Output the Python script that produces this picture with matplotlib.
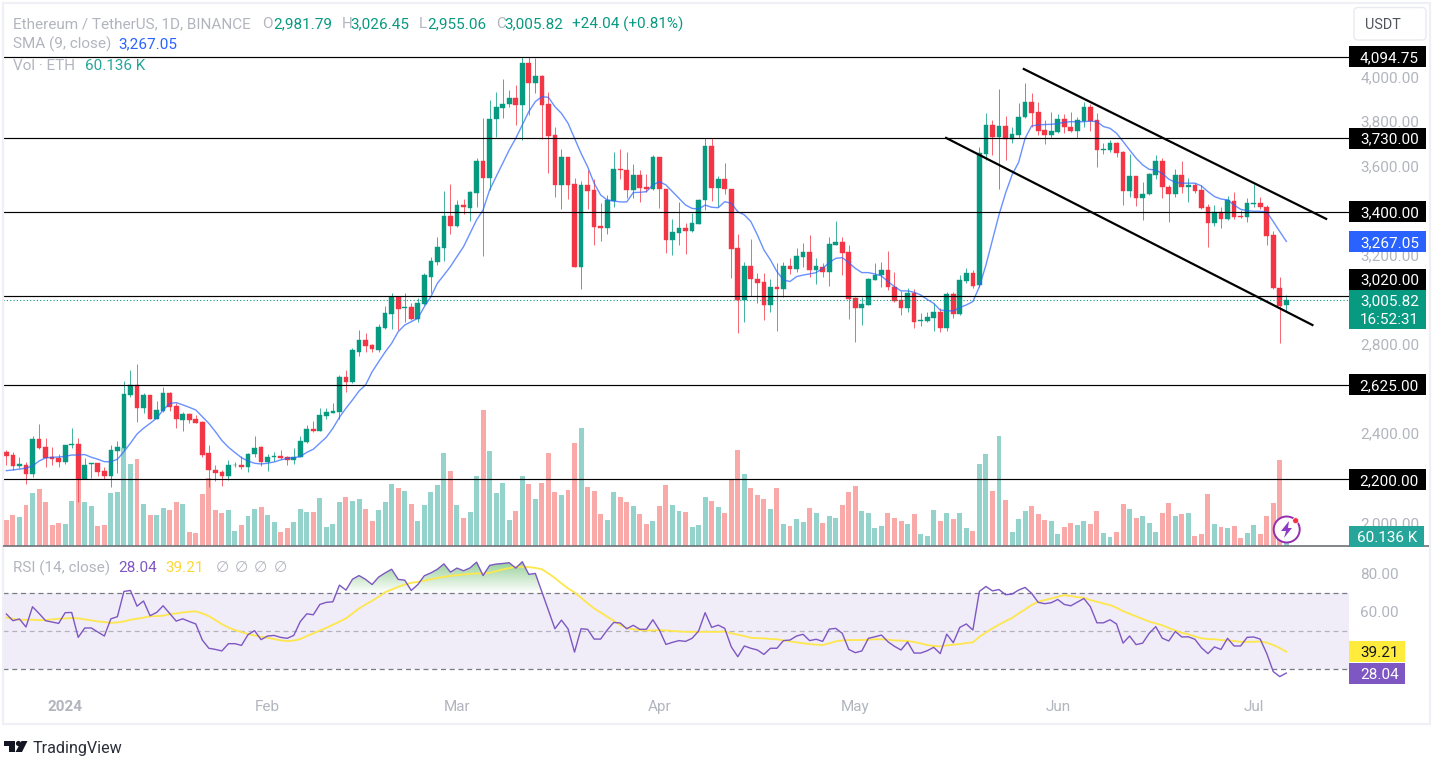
#!/usr/bin/env python3
"""ETH/USDT daily candles with SMA, volume and RSI, TradingView look."""

import matplotlib

matplotlib.use("Agg")
import matplotlib.patches as mpatches
import matplotlib.pyplot as plt
import matplotlib.transforms as mtransforms
import numpy as np
from matplotlib.path import Path

# candles, one per day, 2023-12-23 to 2024-07-06
opens = [
    2324, 2308, 2258, 2264, 2224, 2380, 2344, 2300, 2296, 2276,
    2353, 2357, 2203, 2269, 2272, 2239, 2217, 2327, 2339, 2580,
    2622, 2522, 2578, 2472, 2507, 2589, 2529, 2468, 2493, 2469,
    2457, 2317, 2244, 2233, 2214, 2263, 2266, 2254, 2312, 2345,
    2279, 2300, 2306, 2299, 2287, 2300, 2368, 2424, 2417, 2486,
    2499, 2504, 2661, 2637, 2771, 2823, 2803, 2780, 2877, 2941,
    3016, 2970, 2973, 2918, 2986, 3109, 3173, 3238, 3383, 3338,
    3432, 3418, 3483, 3628, 3550, 3815, 3867, 3882, 3909, 3877,
    4067, 3977, 4009, 3882, 3744, 3520, 3644, 3523, 3154, 3519,
    3496, 3336, 3329, 3450, 3592, 3586, 3496, 3563, 3510, 3501,
    3644, 3504, 3273, 3306, 3327, 3314, 3347, 3451, 3695, 3505,
    3545, 3504, 3236, 3004, 3155, 3100, 3084, 2983, 3064, 3052,
    3155, 3143, 3197, 3218, 3139, 3154, 3130, 3252, 3263, 3218,
    3013, 2970, 2982, 3095, 3115, 3137, 3064, 3004, 2970, 3037,
    2910, 2910, 2925, 2952, 2879, 3033, 2942, 3088, 3124, 3072,
    3661, 3789, 3737, 3786, 3728, 3744, 3824, 3894, 3845, 3767,
    3746, 3759, 3815, 3782, 3762, 3809, 3868, 3812, 3677, 3677,
    3710, 3670, 3495, 3559, 3463, 3478, 3565, 3626, 3513, 3480,
    3563, 3513, 3519, 3496, 3421, 3351, 3397, 3369, 3450, 3383,
    3375, 3433, 3439, 3423, 3296, 3060, 2981.79,
]
highs = [
    2332, 2324, 2302, 2279, 2395, 2448, 2384, 2344, 2314, 2354,
    2430, 2384, 2294, 2275, 2275, 2257, 2354, 2372, 2643, 2691,
    2716, 2589, 2578, 2553, 2616, 2593, 2541, 2504, 2496, 2489,
    2463, 2354, 2264, 2242, 2287, 2279, 2305, 2320, 2395, 2351,
    2314, 2324, 2332, 2305, 2339, 2395, 2442, 2462, 2522, 2522,
    2541, 2667, 2691, 2789, 2870, 2855, 2807, 2897, 2979, 3034,
    3019, 3037, 2992, 3012, 3127, 3199, 3288, 3492, 3523, 3453,
    3456, 3495, 3643, 3822, 3901, 3936, 3996, 3946, 3969, 4094,
    4094, 4088, 4013, 3936, 3782, 3681, 3644, 3550, 3538, 3587,
    3545, 3438, 3474, 3670, 3681, 3670, 3613, 3587, 3569, 3655,
    3644, 3504, 3368, 3445, 3351, 3396, 3457, 3729, 3729, 3562,
    3617, 3504, 3299, 3173, 3278, 3127, 3124, 3097, 3172, 3176,
    3194, 3236, 3261, 3296, 3191, 3169, 3285, 3359, 3285, 3251,
    3019, 3019, 3104, 3169, 3173, 3224, 3131, 3046, 3057, 3052,
    2944, 2952, 2989, 2967, 3042, 3042, 3116, 3146, 3139, 3692,
    3844, 3812, 3949, 3831, 3782, 3886, 3976, 3931, 3891, 3812,
    3849, 3839, 3839, 3846, 3824, 3891, 3883, 3842, 3707, 3722,
    3714, 3673, 3659, 3562, 3532, 3573, 3655, 3640, 3520, 3590,
    3626, 3550, 3528, 3520, 3433, 3430, 3423, 3471, 3487, 3408,
    3460, 3525, 3465, 3430, 3314, 3109, 3026.45,
]
lows = [
    2264, 2242, 2250, 2179, 2212, 2335, 2257, 2264, 2257, 2267,
    2339, 2100, 2200, 2205, 2215, 2202, 2167, 2227, 2332, 2568,
    2457, 2499, 2472, 2469, 2504, 2508, 2429, 2417, 2451, 2451,
    2302, 2167, 2194, 2170, 2197, 2254, 2248, 2235, 2302, 2261,
    2239, 2282, 2290, 2264, 2270, 2299, 2365, 2412, 2417, 2472,
    2496, 2472, 2590, 2630, 2753, 2770, 2770, 2772, 2873, 2873,
    2870, 2907, 2915, 2907, 2982, 3034, 3161, 3179, 3300, 3333,
    3390, 3359, 3423, 3202, 3498, 3737, 3821, 3871, 3789, 3722,
    3834, 3934, 3725, 3572, 3468, 3414, 3456, 3151, 3055, 3414,
    3251, 3269, 3300, 3423, 3545, 3460, 3460, 3445, 3490, 3498,
    3415, 3216, 3206, 3251, 3211, 3311, 3345, 3408, 3450, 3420,
    3478, 3101, 2855, 2907, 3022, 2989, 2915, 2949, 2867, 3019,
    3119, 3128, 3154, 3109, 3074, 3109, 3069, 3252, 3116, 2919,
    2816, 2892, 2982, 3094, 3064, 3049, 2997, 2937, 2952, 2880,
    2889, 2904, 2865, 2862, 2867, 2925, 2937, 3082, 3057, 3064,
    3632, 3655, 3501, 3632, 3710, 3729, 3822, 3779, 3744, 3704,
    3729, 3752, 3752, 3756, 3729, 3779, 3764, 3599, 3659, 3670,
    3644, 3430, 3465, 3426, 3363, 3475, 3546, 3463, 3356, 3468,
    3486, 3445, 3486, 3412, 3244, 3338, 3329, 3363, 3368, 3371,
    3353, 3423, 3411, 3251, 3052, 2810, 2955.06,
]
closes = [
    2305, 2258, 2270, 2224, 2380, 2339, 2294, 2291, 2278, 2353,
    2359, 2200, 2266, 2272, 2235, 2217, 2330, 2344, 2583, 2622,
    2522, 2578, 2472, 2511, 2589, 2526, 2469, 2493, 2466, 2454,
    2311, 2241, 2230, 2214, 2264, 2266, 2254, 2315, 2342, 2279,
    2302, 2306, 2294, 2287, 2300, 2371, 2424, 2415, 2489, 2502,
    2507, 2661, 2635, 2780, 2825, 2798, 2784, 2885, 2947, 3016,
    2965, 2974, 2918, 2992, 3115, 3178, 3242, 3383, 3338, 3432,
    3420, 3487, 3628, 3550, 3818, 3871, 3885, 3909, 3877, 4067,
    3979, 4009, 3879, 3740, 3520, 3644, 3520, 3154, 3519, 3492,
    3333, 3329, 3453, 3590, 3587, 3498, 3563, 3505, 3504, 3644,
    3502, 3273, 3309, 3327, 3315, 3350, 3454, 3695, 3505, 3545,
    3501, 3233, 3004, 3155, 3099, 3079, 2983, 3064, 3052, 3155,
    3142, 3200, 3218, 3139, 3155, 3130, 3255, 3263, 3215, 3010,
    2970, 2986, 3100, 3118, 3137, 3061, 3001, 2970, 3037, 2906,
    2915, 2928, 2952, 2879, 3033, 2942, 3092, 3124, 3069, 3665,
    3789, 3737, 3786, 3728, 3749, 3827, 3894, 3842, 3764, 3746,
    3762, 3815, 3779, 3762, 3812, 3868, 3809, 3677, 3682, 3710,
    3665, 3495, 3559, 3463, 3480, 3568, 3626, 3510, 3480, 3563,
    3510, 3520, 3493, 3418, 3351, 3397, 3369, 3453, 3378, 3377,
    3441, 3439, 3420, 3293, 3057, 2977, 3005.82,
]
sma_values = [
    2239, 2242, 2246, 2250, 2260, 2282, 2296, 2299, 2300, 2303,
    2309, 2309, 2311, 2299, 2290, 2279, 2279, 2290, 2324, 2362,
    2403, 2429, 2451, 2474, 2511, 2540, 2544, 2534, 2523, 2511,
    2481, 2451, 2414, 2374, 2344, 2320, 2297, 2282, 2272, 2269,
    2272, 2278, 2287, 2294, 2297, 2302, 2321, 2335, 2362, 2389,
    2429, 2478, 2519, 2556, 2596, 2623, 2682, 2727, 2771, 2810,
    2862, 2892, 2907, 2922, 2974, 3019, 3079, 3116, 3154, 3199,
    3243, 3303, 3363, 3408, 3498, 3557, 3617, 3677, 3729, 3789,
    3849, 3894, 3916, 3913, 3871, 3841, 3797, 3729, 3662, 3602,
    3528, 3475, 3453, 3448, 3444, 3444, 3486, 3487, 3490, 3520,
    3535, 3520, 3490, 3460, 3430, 3415, 3412, 3430, 3420, 3418,
    3445, 3438, 3400, 3386, 3356, 3296, 3229, 3184, 3131, 3094,
    3087, 3109, 3116, 3121, 3127, 3146, 3172, 3191, 3194, 3172,
    3146, 3127, 3127, 3121, 3112, 3087, 3064, 3045, 3045, 3039,
    3027, 3007, 2989, 2959, 2956, 2955, 2970, 2982, 2997, 3064,
    3161, 3273, 3386, 3483, 3565, 3621, 3729, 3785, 3789, 3791,
    3792, 3795, 3801, 3804, 3803, 3804, 3806, 3804, 3782, 3774,
    3752, 3715, 3677, 3640, 3610, 3590, 3587, 3572, 3546, 3532,
    3528, 3528, 3528, 3516, 3490, 3468, 3457, 3453, 3430, 3411,
    3405, 3402, 3402, 3399, 3356, 3311, 3267.05,
]
volumes = [
    172, 205, 191, 271, 350, 378, 290, 139, 152, 145,
    297, 517, 290, 264, 132, 139, 350, 356, 645, 539,
    572, 277, 205, 205, 251, 238, 290, 277, 92, 86,
    343, 447, 238, 218, 238, 99, 139, 198, 244, 257,
    205, 158, 92, 119, 158, 244, 224, 224, 317, 125,
    145, 290, 323, 297, 310, 244, 165, 238, 290, 411,
    383, 363, 277, 165, 271, 356, 403, 612, 493, 271,
    185, 224, 464, 898, 625, 350, 416, 172, 231, 464,
    411, 310, 416, 612, 356, 337, 370, 678, 779, 389,
    363, 211, 172, 356, 323, 290, 264, 211, 145, 165,
    264, 403, 271, 231, 224, 125, 139, 323, 297, 257,
    217, 445, 635, 474, 385, 336, 309, 242, 385, 148,
    134, 181, 161, 248, 221, 154, 201, 188, 268, 356,
    398, 228, 221, 121, 134, 221, 188, 168, 148, 208,
    81, 67, 235, 168, 221, 181, 221, 121, 101, 541,
    608, 362, 725, 302, 94, 181, 228, 262, 208, 174,
    168, 81, 128, 154, 141, 168, 148, 228, 87, 60,
    94, 275, 242, 188, 201, 154, 94, 215, 282, 201,
    208, 215, 67, 81, 342, 148, 128, 121, 134, 54,
    87, 141, 81, 195, 282, 570, 60.136,
]
rsi_values = [
    58.9, 55.4, 56.3, 52.1, 62.7, 59.2, 55.4, 54.7, 54.0, 59.6,
    59.7, 46.7, 51.6, 51.6, 49.5, 47.4, 56.4, 57.5, 70.7, 71.2,
    63.0, 65.7, 58.0, 59.7, 63.2, 59.2, 55.2, 56.4, 55.0, 53.7,
    45.3, 41.0, 40.4, 39.6, 43.4, 43.4, 42.5, 48.1, 50.2, 45.5,
    47.4, 47.7, 46.7, 46.2, 47.7, 54.9, 59.0, 58.5, 63.9, 65.0,
    65.3, 74.0, 71.4, 77.1, 79.0, 77.0, 74.3, 78.2, 80.4, 82.3,
    77.0, 76.6, 71.2, 74.3, 78.9, 80.4, 82.3, 85.1, 80.8, 82.9,
    81.5, 83.0, 86.0, 79.0, 84.3, 85.0, 85.3, 85.7, 82.9, 86.2,
    79.6, 80.1, 70.5, 61.0, 51.2, 55.7, 51.2, 39.0, 51.2, 50.9,
    45.8, 45.8, 50.5, 54.5, 54.2, 51.2, 53.0, 50.9, 50.9, 55.9,
    50.5, 43.0, 44.1, 45.0, 44.6, 46.2, 50.0, 59.6, 51.9, 53.1,
    51.4, 41.8, 36.6, 42.2, 41.0, 40.1, 37.8, 41.0, 41.0, 45.0,
    45.3, 47.4, 48.3, 45.0, 45.7, 44.6, 51.0, 51.4, 48.8, 40.4,
    38.7, 39.6, 46.2, 47.0, 47.9, 44.4, 42.0, 40.1, 44.3, 38.5,
    38.5, 39.7, 41.5, 38.2, 48.4, 43.9, 51.9, 53.7, 50.5, 70.7,
    73.3, 71.0, 71.7, 69.0, 69.3, 71.4, 72.8, 69.7, 65.0, 64.3,
    64.8, 66.5, 63.9, 63.2, 65.1, 67.0, 62.7, 54.3, 54.3, 55.9,
    53.7, 43.7, 47.4, 42.9, 43.7, 48.8, 52.3, 46.3, 44.8, 49.8,
    46.9, 47.0, 45.7, 41.3, 38.2, 41.7, 40.4, 46.2, 42.2, 42.2,
    46.7, 46.9, 45.8, 38.3, 28.8, 26.2, 28.04,
]
rsi_ma_values = [
    57.1, 56.4, 55.9, 55.9, 55.9, 55.7, 55.7, 56.1, 56.4, 56.6,
    56.8, 56.6, 56.1, 55.6, 55.0, 54.7, 54.3, 54.5, 55.0, 55.9,
    56.4, 57.0, 57.7, 57.8, 58.0, 58.9, 59.2, 59.7, 60.1, 60.3,
    59.2, 57.8, 55.7, 53.6, 51.8, 50.5, 49.5, 48.4, 47.7, 47.0,
    46.5, 45.8, 45.1, 44.8, 45.0, 45.8, 47.4, 48.8, 50.3, 51.7,
    53.3, 54.9, 56.6, 59.2, 61.8, 63.9, 65.8, 67.9, 70.3, 71.7,
    73.1, 74.3, 75.2, 75.7, 76.4, 77.1, 77.8, 78.3, 78.9, 79.2,
    79.6, 79.9, 80.1, 80.1, 80.4, 81.3, 82.2, 82.9, 83.6, 83.6,
    83.4, 83.0, 82.3, 80.1, 77.7, 74.9, 72.3, 70.2, 67.4, 64.5,
    61.8, 59.7, 57.5, 55.4, 53.1, 51.6, 50.9, 50.5, 50.3, 50.3,
    50.5, 50.3, 50.0, 49.8, 49.6, 49.6, 49.6, 49.6, 49.6, 49.6,
    49.8, 48.8, 48.1, 47.4, 46.5, 46.3, 46.2, 45.8, 45.7, 45.1,
    44.6, 44.1, 43.6, 43.2, 42.9, 42.7, 43.6, 44.6, 45.1, 45.3,
    45.3, 45.3, 45.5, 45.7, 45.7, 45.5, 45.1, 45.0, 44.8, 44.3,
    43.6, 42.7, 42.2, 42.0, 42.5, 42.9, 43.2, 43.7, 44.1, 47.0,
    49.3, 51.4, 53.3, 55.2, 56.8, 59.2, 61.3, 63.6, 65.3, 66.2,
    67.0, 67.9, 68.8, 68.3, 67.7, 67.4, 66.2, 65.3, 64.4, 63.6,
    62.2, 60.4, 59.0, 57.7, 56.3, 55.0, 54.0, 53.0, 51.6, 50.3,
    49.1, 48.3, 47.2, 46.2, 45.8, 45.7, 45.3, 45.1, 44.8, 44.4,
    44.4, 44.4, 44.6, 43.9, 42.7, 41.1, 39.21,
]

# ticks the level boxes would cover are left out, as in the picture
price_ticks = [2000, 2400, 2800, 3200, 3600, 3800, 4000]
rsi_ticks = [60, 80]
month_bars = [9, 40, 69, 100, 130, 161, 191]
month_labels = ["2024", "Feb", "Mar", "Apr", "May", "Jun", "Jul"]
level_prices = [4094.75, 3730.0, 3400.0, 3020.0, 2625.0, 2200.0]
level_labels = ["4,094.75", "3,730.00", "3,400.00", "3,020.00", "2,625.00", "2,200.00"]
upper_channel_bars = [155.8, 202.1]
upper_channel_prices = [4040, 3368]
lower_channel_bars = [143.9, 200.0]
lower_channel_prices = [3731, 2892]

WIDTH, HEIGHT = 1432, 757
GREEN = "#089981"
RED = "#f23645"
GREEN_VOL = "#93d3cb"
RED_VOL = "#f9a9a8"
GRAY_TEXT = "#b2b5be"
BLUE = "#2962ff"
PURPLE = "#7e57c2"
YELLOW = "#ffeb3b"
FONT = ["Roboto", "DejaVu Sans"]
TEXT_SIZE = 11

plt.rcParams["font.family"] = FONT

# pixel coordinates of the reference, y going down
to_px = mtransforms.Affine2D().scale(1, -1).translate(0, HEIGHT)


def axes_box(left, top, right, bottom):
    return [left / WIDTH, 1 - bottom / HEIGHT, (right - left) / WIDTH, (bottom - top) / HEIGHT]


def put_text(x, y, text, color=GRAY_TEXT, size=TEXT_SIZE, ha="left", weight="normal"):
    fig.text(x, y, text, color=color, fontsize=size, ha=ha, va="center_baseline",
             transform=to_px, fontweight=weight, zorder=6)


def put_box(left, top, right, bottom, color):
    fig.add_artist(mpatches.Rectangle((left, top), right - left, bottom - top, facecolor=color,
                                      edgecolor="none", transform=to_px, zorder=5))


bars = np.arange(len(closes))
o = np.array(opens)
c = np.array(closes)
rising = c >= o
x_limits = (-0.52, 205.6)

fig = plt.figure(figsize=(WIDTH / 100, HEIGHT / 100), dpi=100, facecolor="white")

# price pane, volume sits behind it on its own scale
vol_ax = fig.add_axes(axes_box(3, 3, 1349, 546))
vol_ax.bar(bars, volumes, width=0.76, color=[GREEN_VOL if r else RED_VOL for r in rising], linewidth=0)
vol_ax.set_xlim(*x_limits)
vol_ax.set_ylim(0, 3584)
vol_ax.axis("off")

ax = fig.add_axes(axes_box(3, 3, 1349, 546), sharex=vol_ax)
ax.patch.set_visible(False)
colors = [GREEN if r else RED for r in rising]
ax.vlines(bars, lows, highs, colors=colors, linewidth=0.72, alpha=0.75, zorder=2)
ax.bar(bars, np.abs(c - o), bottom=np.minimum(o, c), width=0.72, color=colors,
       edgecolor=colors, linewidth=0.3, zorder=3)
ax.plot(bars, sma_values, color=BLUE, linewidth=1.0, alpha=0.7, zorder=4)
for price in level_prices:
    ax.axhline(price, color="black", linewidth=0.85, zorder=5)
ax.axhline(closes[-1], color=GREEN, linewidth=0.8, linestyle=(0, (1, 2)), zorder=5)
ax.plot(upper_channel_bars, upper_channel_prices, color="black", linewidth=1.6, zorder=6)
ax.plot(lower_channel_bars, lower_channel_prices, color="black", linewidth=1.6, zorder=6)
ax.set_ylim(1901, 4336)
ax.yaxis.tick_right()
ax.set_yticks(price_ticks)
ax.set_yticklabels([f"{t:,.2f}" for t in price_ticks], color=GRAY_TEXT, fontsize=TEXT_SIZE)
ax.tick_params(axis="y", length=0, pad=8)
ax.tick_params(axis="x", length=0, labelbottom=False)
# price labels sit a touch above their grid position in the picture
for tick_label in ax.get_yticklabels():
    tick_label.set_y(tick_label.get_position()[1])
    tick_label.set_transform(tick_label.get_transform() + mtransforms.Affine2D().translate(0, 1.5))
for spine in ax.spines.values():
    spine.set_visible(False)

# RSI pane
rsi_ax = fig.add_axes(axes_box(3, 548, 1349, 694))
rsi_ax.axhspan(30, 70, color=PURPLE, alpha=0.11, linewidth=0, zorder=1)
rsi_ax.axhline(70, color="#787b86", linewidth=0.9, linestyle=(0, (4, 3)), zorder=2)
rsi_ax.axhline(50, color="#787b86", linewidth=0.9, linestyle=(0, (4, 3)), alpha=0.5, zorder=2)
rsi_ax.axhline(30, color="#787b86", linewidth=0.9, linestyle=(0, (4, 3)), zorder=2)
rsi = np.array(rsi_values)
overbought = rsi_ax.fill_between(bars, rsi, 70, where=rsi > 70, interpolate=True, color="none")
clip = Path.make_compound_path(*overbought.get_paths())
shade = np.zeros((64, 2, 4))
shade[:, :, :3] = (0.30, 0.69, 0.31)
shade[:, :, 3] = np.linspace(0.62, 0.0, 64)[:, None]
image = rsi_ax.imshow(shade, extent=(bars[0], bars[-1], 70, 87), aspect="auto", origin="upper", zorder=2)
image.set_clip_path(clip, rsi_ax.transData)
rsi_ax.plot(bars, rsi_ma_values, color="#fde74c", linewidth=1.3, zorder=3)
rsi_ax.plot(bars, rsi_values, color=PURPLE, linewidth=1.0, zorder=4)
rsi_ax.set_xlim(*x_limits)
rsi_ax.set_ylim(17.1, 93.4)
rsi_ax.yaxis.tick_right()
rsi_ax.set_yticks(rsi_ticks)
rsi_ax.set_yticklabels([f"{t:.2f}" for t in rsi_ticks], color=GRAY_TEXT, fontsize=TEXT_SIZE)
rsi_ax.set_xticks(month_bars)
rsi_ax.set_xticklabels(month_labels, color=GRAY_TEXT, fontsize=TEXT_SIZE)
rsi_ax.get_xticklabels()[0].set_fontweight("bold")
rsi_ax.tick_params(axis="both", length=0)
rsi_ax.tick_params(axis="y", pad=8)
rsi_ax.tick_params(axis="x", pad=4)
for spine in rsi_ax.spines.values():
    spine.set_visible(False)

# frame and pane separator
fig.add_artist(mpatches.Rectangle((2.5, 2.5), 1427, 721, facecolor="none", edgecolor="#eef0f6",
                                  linewidth=1.6, transform=to_px, zorder=1))
fig.add_artist(mpatches.Rectangle((3, 544.8), 1426, 2.4, facecolor="#6f7378", alpha=0.85,
                                  edgecolor="none", transform=to_px, zorder=4))

# header legends
put_text(13, 23, "Ethereum / TetherUS, 1D, BINANCE")
for x, letter, value in [(262, "O", "2,981.79"), (342, "H", "3,026.45"), (419, "L", "2,955.06"), (496, "C", "3,005.82")]:
    put_text(x, 23, letter)
    put_text(x + (11 if letter == "O" else 8.5), 23, value, color=GREEN)
put_text(572, 23, "+24.04 (+0.81%)", color=GREEN)
put_text(13, 43, "SMA (9, close)")
put_text(118, 43, "3,267.05", color=BLUE)
put_text(13, 65, "Vol · ETH")
put_text(85, 65, "60.136 K", color="#26a69a")
put_text(13, 567, "RSI (14, close)")
put_text(118, 567, "28.04", color=PURPLE)
put_text(165, 567, "39.21", color="#fdd835")
for x in [216, 235, 254, 274]:
    put_text(x, 567, "\u2205")

# price axis boxes
for price, label in zip(level_prices, level_labels):
    y = 78 + (4000 - price) * 0.223
    # the 3,020 box is pushed up by the last-price box under it
    if price == 3020.0:
        y = 279
    put_box(1349, y - 10.5, 1426, y + 10.5, "black")
    put_text(1419, y, label, color="white", ha="right")
put_box(1349, 231, 1426, 252, BLUE)
put_text(1419, 241.5, "3,267.05", color="white", ha="right")
put_box(1349, 290, 1426, 328.5, GREEN)
put_text(1419, 299.5, "3,005.82", color="white", ha="right")
put_text(1419, 318, "16:52:31", color="white", ha="right")
put_box(1349, 525.5, 1424, 547, "#26a69a")
put_text(1417, 536.5, "60.136 K", color="white", ha="right")
put_box(1349, 641, 1405, 662, YELLOW)
put_text(1399, 651.5, "39.21", color="#131722", ha="right")
put_box(1349, 663, 1405, 684, PURPLE)
put_text(1399, 673.5, "28.04", color="white", ha="right")

# currency button
fig.add_artist(mpatches.FancyBboxPatch((1354, 7.5), 72, 32.5, boxstyle="round,pad=0,rounding_size=4",
                                       facecolor="white", edgecolor="#e8eaf0", linewidth=1,
                                       transform=to_px, zorder=5))
put_text(1383, 23.5, "USDT", color="#50535e", size=10.4, ha="center")

# lightning badge
fig.add_artist(mpatches.Circle((1286.7, 529.5), 13, facecolor="white", edgecolor="#8e24aa", linewidth=1.4,
                               alpha=0.95, transform=to_px, zorder=5))
fig.add_artist(mpatches.Polygon([(1289, 521), (1281, 531), (1286, 531), (1284, 538), (1292, 528), (1288, 528)],
                                facecolor="#8e3bc4", edgecolor="none", transform=to_px, zorder=6))
fig.add_artist(mpatches.Circle((1295.7, 520.7), 3, facecolor="#f23645", edgecolor="white", linewidth=0.5,
                               transform=to_px, zorder=6))

# TradingView mark
logo = "#131722"
fig.add_artist(mpatches.Polygon([(3.5, 741), (15, 741), (15, 752), (9, 752), (9, 746), (3.5, 746)],
                                facecolor=logo, edgecolor="none", transform=to_px))
fig.add_artist(mpatches.Circle((18.5, 743.5), 2.6, facecolor=logo, edgecolor="none", transform=to_px))
fig.add_artist(mpatches.Polygon([(21.5, 741), (27.5, 741), (22, 752), (15.5, 752)],
                                facecolor=logo, edgecolor="none", transform=to_px))
put_text(33, 747, "TradingView", color="#2a2e39", size=11.6)

fig.savefig("out.png", dpi=100)
